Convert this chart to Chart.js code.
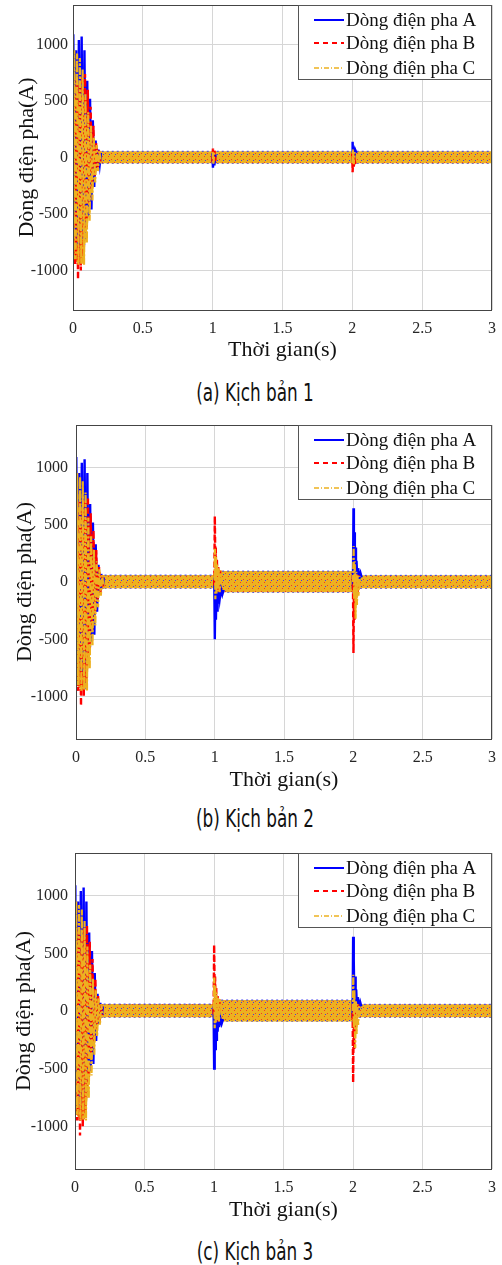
<!DOCTYPE html>
<html>
<head>
<meta charset="utf-8">
<script src="https://cdn.jsdelivr.net/npm/chart.js@4.4.1/dist/chart.umd.min.js"></script>
<style>
body{margin:0;background:#fff;width:502px;height:1265px;position:relative;overflow:hidden}
canvas{position:absolute;left:0}
.cap{position:absolute;left:0;width:510px;text-align:center;line-height:26px;
  font-family:"DejaVu Sans Condensed","DejaVu Sans",sans-serif;font-size:24px;color:#111;
  transform:scaleX(0.78);transform-origin:255px 0}
</style>
</head>
<body>
<canvas id="c1" width="502" height="363" style="top:0px"></canvas>
<div class="cap" style="top:380px">(a) Kịch bản 1</div>
<canvas id="c2" width="502" height="373" style="top:420px"></canvas>
<div class="cap" style="top:806px">(b) Kịch bản 2</div>
<canvas id="c3" width="502" height="375" style="top:848px"></canvas>
<div class="cap" style="top:1239px">(c) Kịch bản 3</div>
<script>
const xTicks=[0,0.5,1,1.5,2,2.5,3];
const yTicks=[-1000,-500,0,500,1000];
const names=["Dòng điện pha A","Dòng điện pha B","Dòng điện pha C"];

// start-up transient, same in all three scenarios  [t(s), i(A)]
const startA=[[0,380],[0.002,1090],[0.012,-650],[0.022,950],[0.032,-780],[0.042,1040],[0.052,-800],[0.062,1070],[0.072,-720],[0.082,950],[0.092,-600],[0.102,680],[0.112,-520],[0.122,520],[0.132,-460],[0.142,330],[0.152,-260],[0.162,150],[0.172,-110],[0.182,70],[0.192,-55],[0.2,40]];
const startB=[[0,-300],[0.006,600],[0.016,-950],[0.026,700],[0.036,-1080],[0.046,650],[0.056,-1000],[0.066,720],[0.076,-880],[0.086,740],[0.096,-620],[0.106,600],[0.116,-420],[0.126,450],[0.136,-280],[0.146,280],[0.156,-160],[0.166,130],[0.176,-90],[0.186,60],[0.196,-50]];
const startC=[[0,-80],[0.004,-900],[0.009,950],[0.019,-900],[0.029,920],[0.039,-950],[0.049,880],[0.059,-940],[0.069,780],[0.079,-950],[0.089,560],[0.099,-760],[0.109,400],[0.119,-560],[0.129,280],[0.139,-380],[0.149,180],[0.159,-220],[0.169,110],[0.179,-120],[0.189,60],[0.199,-55]];
// envelope of the dense start-up region (mostly phase C colour)
const startEnvTime=[0,0.004,0.02,0.045,0.07,0.09,0.11,0.13,0.15,0.17,0.19];
const startEnvHigh=[380,900,930,880,760,560,400,280,170,90,55];
const startEnvLow=[-80,-880,-920,-940,-940,-760,-560,-380,-220,-110,-52];

// scenario 1: steady band and small disturbances at 1 s and 2 s
const bandTime1=[0.17,3.0];
const bandHigh1=[55,55];
const bandLow1=[-52,-52];
const eventA1=[[0.998,40],[1.002,-90],[1.008,40],[1.012,-70],[1.02,30]];
const eventB1=[[0.999,-40],[1.002,80],[1.008,-40],[1.013,60],[1.02,-30]];
const eventC1=[[1.0,50],[1.005,-60],[1.012,50]];
const eventA1b=[[1.998,-40],[2.002,140],[2.006,-20],[2.01,90],[2.015,20],[2.02,70],[2.03,40]];
const eventB1b=[[1.999,40],[2.002,-130],[2.006,20],[2.01,-80],[2.016,-20],[2.022,-60]];
const eventC1b=[[2.0,-50],[2.004,70],[2.01,-60],[2.016,50]];

// scenarios 2 and 3 (identical curves)
const bandTime2=[0.17,1.0,1.015,2.0,2.02,3.0];
const bandHigh2=[60,60,95,95,58,58];
const bandLow2=[-55,-55,-90,-90,-55,-55];
const eventA2=[[0.997,40],[1.001,-500],[1.005,-20],[1.009,-330],[1.013,-30],[1.017,-250],[1.021,-40],[1.026,-180],[1.031,-50],[1.037,-140],[1.045,-60],[1.055,-110],[1.065,-70]];
const eventB2=[[0.997,-30],[1.001,575],[1.005,150],[1.008,300],[1.012,-60],[1.016,200],[1.021,-80],[1.026,130],[1.032,-90],[1.04,100]];
const eventC2=[[0.998,20],[1.002,290],[1.005,-150],[1.009,220],[1.013,-100],[1.018,160],[1.023,-80],[1.029,120],[1.036,-90],[1.044,100]];
const eventA2b=[[1.997,-60],[2.001,643],[2.004,-30],[2.007,435],[2.011,-20],[2.015,300],[2.019,0],[2.023,185],[2.029,10],[2.035,120],[2.043,30],[2.052,75],[2.06,40]];
const eventB2b=[[1.997,60],[2.001,-620],[2.005,30],[2.009,-330],[2.013,60],[2.018,-180],[2.024,70],[2.03,-110],[2.038,60]];
const eventC2b=[[1.998,0],[2.002,315],[2.006,-150],[2.01,180],[2.016,-320],[2.021,90],[2.026,-200],[2.031,60],[2.037,-120],[2.045,50]];

const panels=[
  {id:"c1",top:0,height:363,plotTop:5,plotBottom:310,plotLeft:73,titleX:27,yMax:1350,
   bandTime:bandTime1,bandHigh:bandHigh1,bandLow:bandLow1,
   segs:[[startA,eventA1,eventA1b],[startB,eventB1,eventB1b],[startC,eventC1,eventC1b]]},
  {id:"c2",top:420,height:373,plotTop:425,plotBottom:739,plotLeft:76,titleX:25,yMax:1370,
   bandTime:bandTime2,bandHigh:bandHigh2,bandLow:bandLow2,
   segs:[[startA,eventA2,eventA2b],[startB,eventB2,eventB2b],[startC,eventC2,eventC2b]]},
  {id:"c3",top:848,height:375,plotTop:853,plotBottom:1169,plotLeft:75,titleX:24,yMax:1370,
   bandTime:bandTime2,bandHigh:bandHigh2,bandLow:bandLow2,
   segs:[[startA,eventA2,eventA2b],[startB,eventB2,eventB2b],[startC,eventC2,eventC2b]]}
];

const styles=[
  {color:"#0000ff",width:2.4,dash:[]},
  {color:"#ff0000",width:2.4,dash:[6,3]},
  {color:"#EDB120",width:2.2,dash:[7,2,2,2]}
];
const legendStyles=[
  {color:"#0000ff",width:2,dash:[]},
  {color:"#ff0000",width:2,dash:[5,4]},
  {color:"#EDB120",width:1.6,dash:[5,2,1,2]}
];

function pts(ts,vs){
  return ts.map((t,i)=>({x:t,y:vs[i]}));
}

function joinSegs(segs){
  let out=[];
  segs.forEach((s,k)=>{
    if(k>0) out.push({x:s[0][0]-0.001,y:null});
    s.forEach(p=>out.push({x:p[0],y:p[1]}));
  });
  return out;
}

function bandFill(ctx){
  let c=document.createElement("canvas");
  c.width=6;c.height=6;
  let g=c.getContext("2d");
  g.fillStyle="#EDB120";g.fillRect(0,0,6,6);
  g.fillStyle="#f03a2a";g.fillRect(0,0,1,1);g.fillRect(3,3,1,1);
  g.fillStyle="#3a3af0";g.fillRect(1,4,1,1);
  return ctx.createPattern(c,"repeat");
}

const frame={
  id:"frame",
  afterDraw(chart){
    const {ctx,chartArea:a}=chart;
    ctx.save();
    ctx.strokeStyle="#444";
    ctx.lineWidth=1;
    ctx.strokeRect(Math.round(a.left)+0.5,Math.round(a.top)+0.5,Math.round(a.right-a.left)-1,Math.round(a.bottom-a.top));
    // legend box
    let w=194,h=74,x0=a.right-w,y0=a.top;
    ctx.fillStyle="#fff";
    ctx.fillRect(x0,y0,w,h);
    ctx.strokeStyle="#555";
    ctx.strokeRect(Math.round(x0)+0.5,Math.round(y0)+0.5,w-1,h);
    ctx.font="19px 'Liberation Serif'";
    ctx.textBaseline="middle";
    [15,38,63].forEach((dy,i)=>{
      let st=legendStyles[i];
      ctx.strokeStyle=st.color;
      ctx.lineWidth=st.width;
      ctx.setLineDash(st.dash);
      ctx.beginPath();
      ctx.moveTo(x0+16,y0+dy);
      ctx.lineTo(x0+46,y0+dy);
      ctx.stroke();
      ctx.setLineDash([]);
      ctx.fillStyle="#111";
      ctx.fillText(names[i],x0+48,y0+dy+1);
    });
    ctx.restore();
  }
};

function makeChart(p){
  const el=document.getElementById(p.id);
  const ctx=el.getContext("2d");
  const pattern=bandFill(ctx);
  let sets=[
    {data:pts(p.bandTime,p.bandHigh),fill:"+1",backgroundColor:pattern,borderColor:"#3a3af0",borderWidth:1,borderDash:[2,3],pointRadius:0,order:10},
    {data:pts(p.bandTime,p.bandLow),fill:false,borderColor:"#3a3af0",borderWidth:1,borderDash:[2,3],pointRadius:0,order:11},
    {data:pts(startEnvTime,startEnvHigh),fill:"+1",backgroundColor:pattern,borderWidth:0,pointRadius:0,order:12},
    {data:pts(startEnvTime,startEnvLow),fill:false,borderWidth:0,pointRadius:0,order:13}
  ];
  p.segs.forEach((s,i)=>{
    sets.push({label:names[i],data:joinSegs(s),borderColor:styles[i].color,borderWidth:styles[i].width,
      borderDash:styles[i].dash,pointRadius:0,fill:false,tension:0,order:3-i});
  });
  const serif="Liberation Serif";
  new Chart(el,{
    type:"line",
    data:{datasets:sets},
    options:{
      responsive:false,animation:false,events:[],
      layout:{padding:{top:p.plotTop-p.top,right:10,left:0,bottom:0}},
      plugins:{legend:{display:false},tooltip:{enabled:false}},
      scales:{
        x:{type:"linear",min:0,max:3,
          afterBuildTicks:s=>{s.ticks=xTicks.map(v=>({value:v}));},
          afterFit:s=>{s.height=p.height-(p.plotBottom-p.top);s.paddingLeft=0;s.paddingRight=0;},
          grid:{color:"#d6d6d6",drawTicks:false},
          border:{display:false},
          ticks:{padding:9,color:"#262626",font:{family:serif,size:16},maxRotation:0,autoSkip:false,callback:v=>String(v)},
          title:{display:true,text:"Thời gian(s)",color:"#111",font:{family:serif,size:22},padding:0}},
        y:{type:"linear",min:-p.yMax,max:p.yMax,
          afterBuildTicks:s=>{s.ticks=yTicks.map(v=>({value:v}));},
          afterFit:s=>{s.width=p.plotLeft;s.paddingTop=0;s.paddingBottom=0;},
          grid:{color:"#d6d6d6",drawTicks:false},
          border:{display:false},
          ticks:{padding:p.plotLeft-68,color:"#262626",font:{family:serif,size:16},callback:v=>String(v)},
          title:{display:true,text:"Dòng điện pha(A)",color:"#111",font:{family:serif,size:22},padding:{top:p.titleX-13,bottom:0}}}
      }
    },
    plugins:[frame]
  });
}

document.addEventListener("DOMContentLoaded",()=>{
  panels.forEach(makeChart);
});
</script>
</body>
</html>
